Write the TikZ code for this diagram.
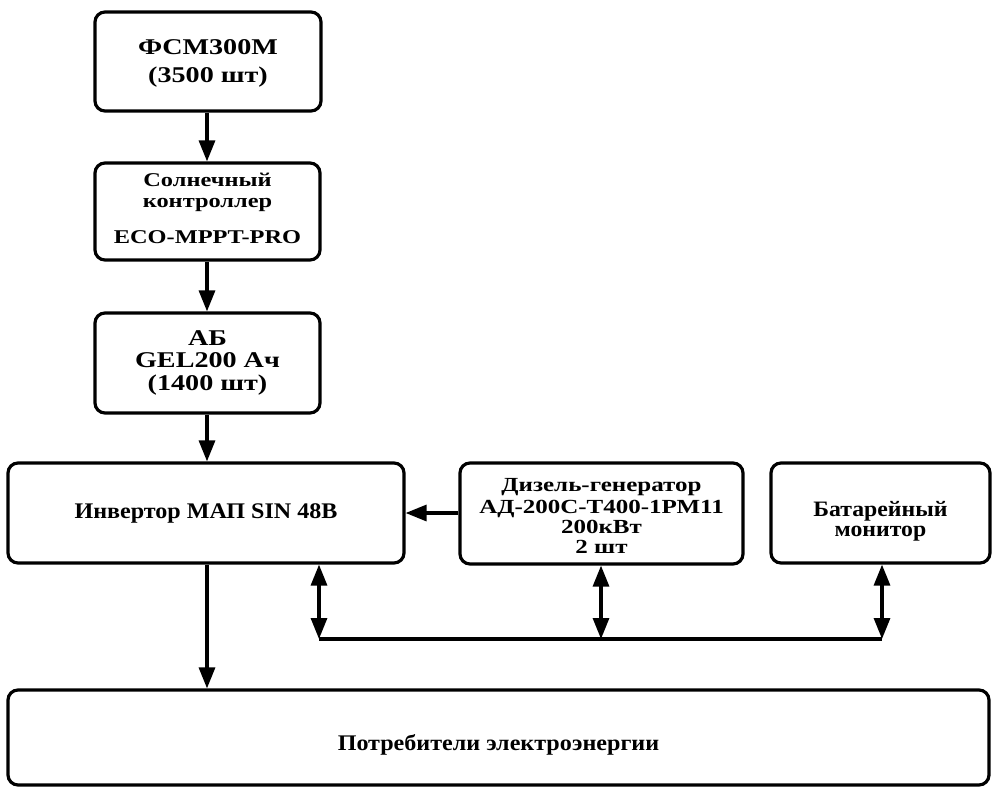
\documentclass[tikz,border=0pt]{standalone}
\usepackage{fontspec}
\setmainfont{Liberation Serif}
\newfontfamily\fW{Liberation Serif}[FakeStretch=1.25]
\newfontfamily\fM{Liberation Serif}[FakeStretch=1.08]
\usetikzlibrary{arrows.meta}
\newcommand\tb[2]{\raisebox{-#1}[0pt][0pt]{\begin{tabular}[b]{@{}c@{}}#2\end{tabular}}}
\tikzset{
  blk/.style={draw, line width=3.2pt, rounded corners=10pt, inner sep=0pt},
  tip/.tip={Triangle[length=21pt,width=16pt]},
  arr/.style={line width=3.2pt, -tip},
  dbl/.style={line width=3.2pt, tip-tip},
  bus/.style={line width=3.2pt}
}
\begin{document}
\begin{tikzpicture}[x=1pt,y=-1pt]
\useasboundingbox (0,0) rectangle (992,787);
\node[blk, minimum width=226pt, minimum height=99pt, font=\fW\bfseries\fontsize{22.5}{28}\selectfont] (b1) at (208,61.5) {\tb{20.5pt}{ФСМ300М\\(3500 шт)}};
\node[blk, minimum width=225pt, minimum height=97pt, font=\fW\bfseries\fontsize{19.5}{21}\selectfont] (b2) at (207.5,211.5) {\tb{31.5pt}{Солнечный\\контроллер\\[15pt]ECO-MPPT-PRO}};
\node[blk, minimum width=225pt, minimum height=100pt, font=\fW\bfseries\fontsize{22.5}{22.5}\selectfont] (b3) at (207.5,363) {\tb{27pt}{АБ\\GEL200 Ач\\(1400 шт)}};
\node[blk, minimum width=396pt, minimum height=100pt, font=\fM\bfseries\fontsize{22.3}{24}\selectfont] (inv) at (206,513) {\tb{5pt}{Инвертор МАП SIN 48В}};
\node[blk, minimum width=283pt, minimum height=101pt, font=\fW\bfseries\fontsize{20}{20}\selectfont] (dg) at (601.5,513.5) {\tb{39.5pt}{Дизель-генератор\\[2pt]АД-200С-Т400-1РМ11\\200кВт\\2 шт}};
\node[blk, minimum width=219pt, minimum height=100pt, font=\fM\bfseries\fontsize{22}{20}\selectfont] (bm) at (880.5,513) {\tb{23pt}{Батарейный\\монитор}};
\node[blk, minimum width=981pt, minimum height=95pt, font=\fM\bfseries\fontsize{22.3}{24}\selectfont] (bot) at (498.5,737.5) {\tb{12.5pt}{Потребители электроэнергии}};
\coordinate (j1) at (319,639);
\coordinate (j2) at (601,639);
\coordinate (j3) at (882,639);
\draw[arr] (b1.south -| 207,0) -- (b2.north -| 207,0);
\draw[arr] (b2.south -| 207,0) -- (b3.north -| 207,0);
\draw[arr] (b3.south -| 207,0) -- (inv.north -| 207,0);
\draw[arr] (inv.south -| 207,0) -- (bot.north -| 207,0);
\draw[arr] (dg.west |- inv.east) -- (inv.east);
\draw[dbl] (inv.south -| j1) -- (j1);
\draw[dbl] (dg.south -| j2) -- (j2);
\draw[dbl] (bm.south -| j3) -- (j3);
\draw[bus] (j1) -- (j3);
\end{tikzpicture}
\end{document}
